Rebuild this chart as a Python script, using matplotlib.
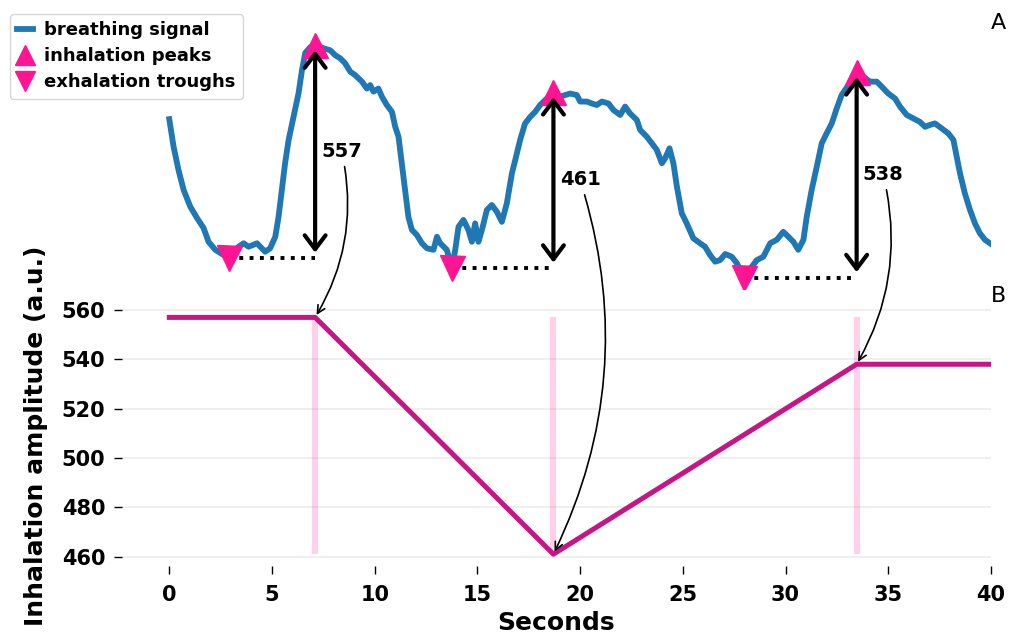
import matplotlib
matplotlib.use("Agg")
import matplotlib.pyplot as plt

# ---- data ----
time_s = [0.00, 0.21, 0.45, 0.70, 1.02, 1.35, 1.67, 1.91, 2.24, 2.56,
          2.89, 3.37, 3.62, 3.86, 4.27, 4.43, 4.67, 4.91, 5.16, 5.32,
          5.48, 5.64, 5.81, 6.05, 6.29, 6.46, 6.62, 6.86, 7.10, 7.51,
          7.83, 8.08, 8.32, 8.56, 8.81, 9.05, 9.38, 9.62, 9.78, 9.94,
          10.18, 10.35, 10.59, 10.84, 11.00, 11.16, 11.32, 11.48, 11.64, 11.81,
          12.05, 12.30, 12.54, 12.86, 13.03, 13.19, 13.51, 13.76, 13.92, 14.08,
          14.32, 14.56, 14.73, 14.89, 15.05, 15.22, 15.46, 15.70, 15.95, 16.19,
          16.43, 16.68, 16.84, 17.08, 17.32, 17.57, 17.81, 18.05, 18.38, 18.70,
          19.03, 19.51, 19.84, 20.00, 20.33, 20.57, 20.81, 21.06, 21.38, 21.62,
          21.95, 22.19, 22.43, 22.76, 22.92, 23.25, 23.49, 23.73, 23.98, 24.14,
          24.35, 24.54, 24.71, 24.95, 25.19, 25.51, 25.84, 26.08, 26.33, 26.57,
          26.81, 27.06, 27.38, 27.63, 27.98, 28.36, 28.60, 28.92, 29.25, 29.57,
          29.89, 30.14, 30.38, 30.62, 30.87, 31.03, 31.27, 31.52, 31.76, 32.00,
          32.25, 32.49, 32.73, 33.06, 33.46, 34.11, 34.44, 34.68, 35.00, 35.33,
          35.57, 35.90, 36.22, 36.54, 36.79, 37.03, 37.27, 37.60, 37.92, 38.17,
          38.33, 38.49, 38.73, 38.98, 39.22, 39.46, 39.71, 39.95]

breathing_signal = [472, 400, 339, 287, 244, 214, 188, 152, 131, 120,
                    109, 139, 148, 139, 148, 139, 126, 135, 165, 217,
                    287, 358, 418, 478, 539, 600, 645, 660, 666, 657,
                    652, 639, 631, 618, 596, 587, 570, 552, 561, 544,
                    552, 531, 509, 491, 452, 426, 357, 287, 217, 183,
                    170, 148, 135, 131, 165, 148, 131, 83, 131, 191,
                    209, 183, 152, 200, 152, 183, 235, 248, 230, 204,
                    252, 331, 365, 418, 461, 478, 491, 509, 526, 544,
                    531, 539, 535, 518, 518, 513, 509, 518, 513, 496,
                    483, 505, 487, 470, 444, 426, 409, 392, 357, 370,
                    396, 357, 296, 226, 200, 161, 148, 139, 117, 100,
                    104, 120, 113, 96, 58, 87, 104, 113, 148, 157,
                    178, 165, 152, 131, 157, 217, 287, 348, 409, 435,
                    461, 500, 535, 561, 596, 570, 570, 557, 539, 526,
                    505, 483, 474, 465, 452, 457, 461, 448, 435, 418,
                    374, 331, 278, 235, 200, 174, 157, 148]

trough_times = [2.89, 13.76, 27.98]
trough_values = [109, 83, 58]
peak_times = [7.10, 18.70, 33.46]
peak_values = [666, 544, 596]
amplitudes = [557, 461, 538]

x_ticks = [0, 5, 10, 15, 20, 25, 30, 35, 40]
y_ticks = [460, 480, 500, 520, 540, 560]
x_end = 40

# ---- figure ----
fig = plt.figure(figsize=(10.11, 6.33), dpi=100)
ax_top = fig.add_axes([0.1207, 0.5428, 0.8595, 0.4047])
ax_bot = fig.add_axes([0.1207, 0.1058, 0.8595, 0.4115], sharex=ax_top)

pink = "#FF1493"
ax_top.plot(time_s, breathing_signal, color="#1f77b4", lw=4.2,
            solid_joinstyle="round", label="breathing signal", zorder=2)
for tt, tv, pt, pv in zip(trough_times, trough_values, peak_times, peak_values):
    ax_top.plot([tt, pt], [tv, tv], color="black", ls=":", lw=2.8, zorder=1)
ax_top.plot(peak_times, peak_values, ls="none", marker="^", ms=18,
            color=pink, label="inhalation peaks", zorder=4)
ax_top.plot(trough_times, trough_values, ls="none", marker="v", ms=18,
            color=pink, label="exhalation troughs", zorder=4)
for tt, tv, pt, pv in zip(trough_times, trough_values, peak_times, peak_values):
    ax_top.annotate("", xy=(pt, pv), xytext=(pt, tv),
                    arrowprops=dict(arrowstyle="<->,head_length=0.4,head_width=0.3",
                                    lw=3, color="black", shrinkA=4, shrinkB=4,
                                    mutation_scale=25), zorder=5)
ax_top.axis("off")
ax_top.text(1.0, 1.0, "A", transform=ax_top.transAxes, ha="left", va="bottom",
            fontsize=16)

# ---- bottom panel ----
line_x = [0] + peak_times + [x_end]
line_y = [amplitudes[0]] + amplitudes + [amplitudes[-1]]
ax_bot.vlines(peak_times, min(amplitudes), max(amplitudes), color=pink,
              alpha=0.2, lw=4.5, zorder=1)
ax_bot.plot(line_x, line_y, color="#C71585", lw=3.6, zorder=2)
ax_bot.set_xlim(-2.3, x_end)
ax_bot.set_xticks(x_ticks)
ax_bot.set_yticks(y_ticks)
ax_bot.grid(axis="y", color="#EEEEEE", lw=1.3)
ax_bot.set_axisbelow(True)
for s in ax_bot.spines.values():
    s.set_visible(False)
ax_bot.tick_params(axis="both", length=6, width=1, labelsize=15)
ax_bot.tick_params(axis="x", pad=8)
ax_bot.tick_params(axis="y", pad=6)
for lab in ax_bot.get_xticklabels() + ax_bot.get_yticklabels():
    lab.set_fontweight("bold")
ax_bot.set_xlabel("Seconds", fontsize=18, fontweight="bold", labelpad=4)
ax_bot.set_ylabel("Inhalation amplitude (a.u.)", fontsize=18, fontweight="bold",
                  labelpad=10)
ax_bot.text(1.0, 1.0, "B", transform=ax_bot.transAxes, ha="left", va="bottom",
            fontsize=16)

for tv, pt, pv, amp in zip(trough_values, peak_times, peak_values, amplitudes):
    ax_bot.annotate(str(amp), xy=(pt, amp), xycoords="data",
                    xytext=(pt + 0.3, (tv + pv) / 2), textcoords=ax_top.transData,
                    ha="left", va="center", fontsize=14, fontweight="bold",
                    annotation_clip=False,
                    arrowprops=dict(arrowstyle="->", color="black", lw=1.2,
                                    connectionstyle="arc3,rad=-0.2",
                                    shrinkA=2, shrinkB=2))

fig.legend(loc="upper left", bbox_to_anchor=(0.0099, 0.978), borderaxespad=0,
           prop={"weight": "bold", "size": 13}, markerscale=0.8,
           handlelength=0.9, handletextpad=0.6, borderpad=0.4,
           labelspacing=0.45)

fig.savefig("out.png", dpi=100)
